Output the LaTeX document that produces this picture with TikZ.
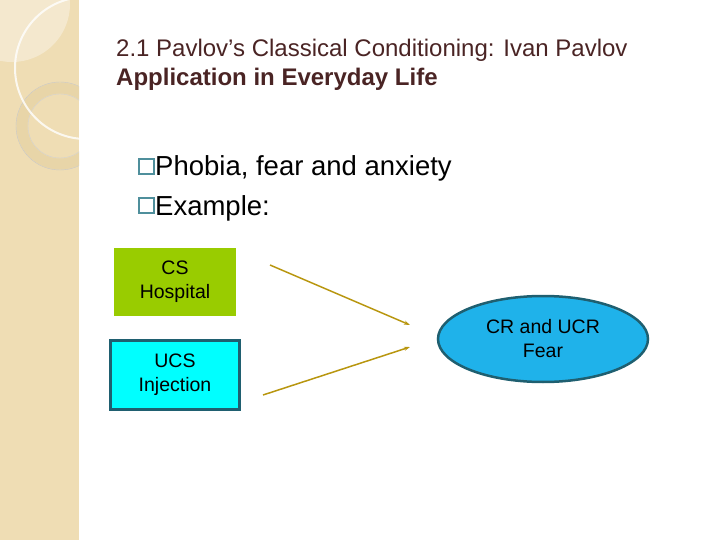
\documentclass[tikz,border=0pt]{standalone}
\usepackage{fontspec}
\setmainfont{Liberation Sans}
\usetikzlibrary{arrows.meta,shapes.geometric,positioning}

\definecolor{strip}{HTML}{EFDDB4}
\definecolor{stripring}{HTML}{E8D5A8}
\definecolor{titlebrown}{HTML}{4A2424}
\definecolor{bulletteal}{HTML}{4F8F9C}
\definecolor{csgreen}{HTML}{99CC00}
\definecolor{ucscyan}{HTML}{00FFFF}
\definecolor{boxedge}{HTML}{1F5F70}
\definecolor{ellblue}{HTML}{1FB2EA}
\definecolor{arrowgold}{HTML}{B8960F}

\tikzset{
  textline/.style={anchor=base west,inner sep=0pt},
  bulletbox/.style={rectangle,draw=bulletteal,line width=1.6pt,minimum size=15pt,inner sep=0pt,anchor=south west},
  stimbox/.style={rectangle,minimum width=#1,align=center,font=\fontsize{19.5}{24}\selectfont,inner sep=0pt},
  respell/.style={ellipse,draw=boxedge,line width=2.5pt,fill=ellblue,minimum width=210pt,minimum height=86pt,
    align=center,font=\fontsize{19.5}{24}\selectfont,inner sep=0pt},
  link/.style={-{Stealth[length=6pt,width=4pt]},arrowgold,line width=1.5pt}
}

\begin{document}
\begin{tikzpicture}[x=1pt,y=-1pt]

\useasboundingbox (0,0) rectangle (720,540);

% side strip
\begin{scope}
\clip (0,0) rectangle (79,540);
\fill[strip] (0,0) rectangle (79,540);
\fill[white,opacity=0.35] (12,4) circle[radius=58];
\draw[stripring,line width=11pt] (60,126) circle[radius=38];
\draw[black!22,line width=0.4pt] (60,126) circle[radius=44];
\draw[black!18,line width=0.4pt] (60,126) circle[radius=32];
\draw[white,opacity=0.8,line width=2pt] (86,68) circle[radius=71];
\end{scope}

% title
\node[textline,titlebrown,font=\fontsize{24}{28}\selectfont] (title) at (116,57)
  {2.1 Pavlov’s Classical Conditioning: Ivan Pavlov};
\node[textline,titlebrown,font=\fontsize{24}{28}\selectfont\bfseries] (subtitle) at (116,86)
  {Application in Everyday Life};

% bullets
\node[textline,font=\fontsize{27.5}{32}\selectfont] (bullet1) at (155,176) {Phobia, fear and anxiety};
\node[textline,font=\fontsize{27.5}{32}\selectfont] (bullet2) at (155,215) {Example:};
\node[bulletbox] (mark1) at (138,175) {};
\node[bulletbox] (mark2) at (138,214) {};

% stimuli and response
\node[stimbox=122pt,fill=csgreen,minimum height=68pt] (cs) at (175,282) {CS\\Hospital};
\node[stimbox=129pt,fill=ucscyan,draw=boxedge,line width=3pt,minimum height=69pt] (ucs) at (175,375) {UCS\\Injection};
\node[respell] (resp) at (543,339) {CR and UCR\\Fear};

\coordinate (csout) at (270,265);
\coordinate (csin) at (410,325);
\coordinate (ucsout) at (263,395);
\coordinate (ucsin) at (410,347);

\draw[link] (csout) -- (csin);
\draw[link] (ucsout) -- (ucsin);

\end{tikzpicture}
\end{document}
